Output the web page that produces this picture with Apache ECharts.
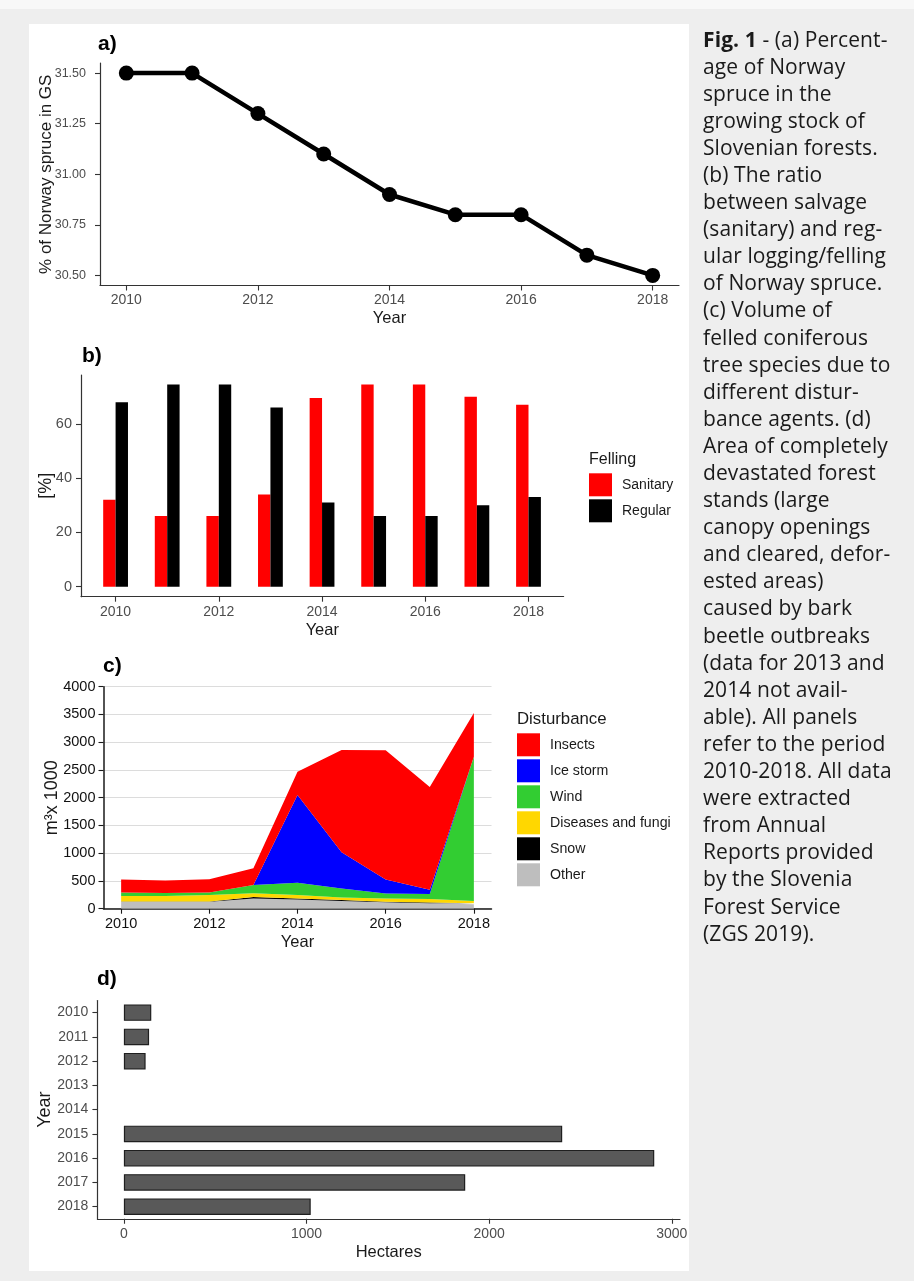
<!DOCTYPE html>
<html>
<head>
<meta charset="utf-8">
<script src="https://cdn.jsdelivr.net/npm/echarts@6/dist/echarts.min.js"></script>
<style>
  html, body { margin: 0; padding: 0; }
  body { width: 914px; height: 1281px; background: #eeeeee; position: relative; overflow: hidden; }
  #topstrip { position: absolute; left: 0; top: 0; width: 914px; height: 9px; background: #f8f8f8; }
  #panel { position: absolute; left: 29px; top: 24px; width: 660px; height: 1247px; background: #ffffff; }
  #chart { position: absolute; left: 0; top: 0; width: 914px; height: 1281px; }
  #caption { position: absolute; left: 703px; top: 25.5px; font-family: 'Open Sans', 'Noto Sans', sans-serif;
             font-size: 21px; line-height: 27.1px; color: #1a1a1a; white-space: nowrap; letter-spacing: 0.1px; }
  #caption b { font-weight: 700; }
</style>
</head>
<body>
<div id="topstrip"></div>
<div id="panel"></div>
<div id="chart"></div>
<div id="caption"><b>Fig. 1</b> - (a) Percent-<br>age of Norway<br>spruce in the<br>growing stock of<br>Slovenian forests.<br>(b) The ratio<br>between salvage<br>(sanitary) and reg-<br>ular logging/felling<br>of Norway spruce.<br>(c) Volume of<br>felled coniferous<br>tree species due to<br>different distur-<br>bance agents. (d)<br>Area of completely<br>devastated forest<br>stands (large<br>canopy openings<br>and cleared, defor-<br>ested areas)<br>caused by bark<br>beetle outbreaks<br>(data for 2013 and<br>2014 not avail-<br>able). All panels<br>refer to the period<br>2010-2018. All data<br>were extracted<br>from Annual<br>Reports provided<br>by the Slovenia<br>Forest Service<br>(ZGS 2019).</div>
<script>
// ---------- data ----------
const years = [2010, 2011, 2012, 2013, 2014, 2015, 2016, 2017, 2018];
const spruceShare = [31.5, 31.5, 31.3, 31.1, 30.9, 30.8, 30.8, 30.6, 30.5];
const sanitary = [32, 26, 26, 34, 69.5, 74.5, 74.5, 70, 67];
const regular  = [68, 74.5, 74.5, 66, 31, 26, 26, 30, 33];
const other    = [126, 126, 126, 186, 168, 138, 114, 100, 78];
const snow     = [5, 5, 5, 25, 18, 18, 12, 10, 18];
const diseases = [97, 100, 115, 66, 60, 48, 60, 66, 42];
const wind     = [66, 50, 48, 150, 222, 162, 90, 90, 2600];
const iceStorm = [0, 0, 0, 0, 1580, 650, 250, 75, 0];
const insects  = [234, 229, 236, 300, 420, 1845, 2330, 1850, 790];
const hectares = [150, 138, 119, null, null, 2400, 2904, 1869, 1023];

const yearTicks = [2010, 2012, 2014, 2016, 2018];
const shareTicks = [30.5, 30.75, 31.0, 31.25, 31.5];
const pctTicks = [0, 20, 40, 60];
const haTicks = [0, 1000, 2000, 3000];

// ---------- styling helpers ----------
const REG = "'Liberation Sans',Arial,sans-serif";
const AXC = '#333333';
const plain = v => String(v);

function axisBase(extra) {
  return Object.assign({
    axisLine: { show: true, onZero: false, lineStyle: { color: AXC, width: 1.2 } },
    splitLine: { show: false },
    nameLocation: 'middle',
    nameMoveOverlap: false,
    nameTextStyle: { fontFamily: REG, fontSize: 16.5, color: '#1a1a1a' }
  }, extra);
}
function lab(color, size, extra) {
  return Object.assign({ fontFamily: REG, fontSize: size, color: color, formatter: plain }, extra || {});
}
function tick(custom, color, extra) {
  const o = { show: true, length: 5, lineStyle: { color: color || AXC, width: 1.1 } };
  if (custom) o.customValues = custom;
  return Object.assign(o, extra || {});
}

const chart = echarts.init(document.getElementById('chart'), null, { renderer: 'canvas' });

const disturb = [
  { name: 'Other', data: other, color: '#bebebe' },
  { name: 'Snow', data: snow, color: '#000000' },
  { name: 'Diseases and fungi', data: diseases, color: '#ffd700' },
  { name: 'Wind', data: wind, color: '#32cd32' },
  { name: 'Ice storm', data: iceStorm, color: '#0000ff' },
  { name: 'Insects', data: insects, color: '#ff0000' }
];

const option = {
  animation: false,
  backgroundColor: 'transparent',
  grid: [
    { left: 100, top: 63, width: 579, height: 222.5, containLabel: false },
    { left: 81, top: 375, width: 482.6, height: 221.7, containLabel: false },
    { left: 103.5, top: 686.7, width: 388, height: 222, containLabel: false },
    { left: 97.4, top: 1000.5, width: 582.6, height: 218.25, containLabel: false }
  ],
  xAxis: [
    axisBase({ type: 'value', gridIndex: 0, min: 2009.6, max: 2018.4, name: 'Year', nameGap: 24,
      axisLabel: lab('#4d4d4d', 14, { customValues: yearTicks, margin: 8 }),
      axisTick: tick(yearTicks) }),
    axisBase({ type: 'value', gridIndex: 1, min: 2009.33, max: 2018.68, name: 'Year', nameGap: 25,
      axisLabel: lab('#4d4d4d', 14, { customValues: yearTicks, margin: 8 }),
      axisTick: tick(yearTicks) }),
    axisBase({ type: 'value', gridIndex: 2, min: 2009.6, max: 2018.4, name: 'Year', nameGap: 25,
      axisLine: { show: true, onZero: false, lineStyle: { color: '#1a1a1a', width: 1.5 } },
      axisLabel: lab('#111111', 14.5, { customValues: yearTicks, margin: 8 }),
      axisTick: tick(yearTicks, '#1a1a1a') }),
    axisBase({ type: 'value', gridIndex: 3, min: -145, max: 3045, name: 'Hectares', nameGap: 25,
      axisLabel: lab('#4d4d4d', 14, { customValues: haTicks, margin: 8 }),
      axisTick: tick(haTicks) })
  ],
  yAxis: [
    axisBase({ type: 'value', gridIndex: 0, min: 30.45, max: 31.55, name: '% of Norway spruce in GS', nameGap: 45.5,
      nameTextStyle: { fontFamily: REG, fontSize: 17, color: '#1a1a1a' },
      axisLabel: lab('#4d4d4d', 12.5, { customValues: shareTicks, margin: 14, formatter: v => Number(v).toFixed(2) }),
      axisTick: tick(shareTicks) }),
    axisBase({ type: 'value', gridIndex: 1, min: -3.7, max: 78, name: '[%]', nameGap: 25.5,
      nameTextStyle: { fontFamily: REG, fontSize: 18, color: '#1a1a1a' },
      axisLabel: lab('#4d4d4d', 14.5, { customValues: pctTicks, margin: 9 }),
      axisTick: tick(pctTicks) }),
    axisBase({ type: 'value', gridIndex: 2, min: 0, max: 4000, interval: 500, name: 'm³x 1000', nameGap: 42.5,
      nameTextStyle: { fontFamily: REG, fontSize: 18, color: '#1a1a1a' },
      axisLine: { show: true, onZero: false, lineStyle: { color: '#1a1a1a', width: 1.5 } },
      axisTick: tick(null, '#1a1a1a'),
      axisLabel: lab('#111111', 14.5, { margin: 8 }),
      splitLine: { show: true, lineStyle: { color: '#dcdcdc', width: 1.2 } } }),
    axisBase({ type: 'category', gridIndex: 3, data: years.map(String), inverse: true, name: 'Year', nameGap: 43,
      nameTextStyle: { fontFamily: REG, fontSize: 18, color: '#1a1a1a' },
      axisLabel: lab('#4d4d4d', 14, { margin: 9, interval: 0 }),
      axisTick: tick(null, AXC, { alignWithLabel: true, interval: 0 }) })
  ],
  legend: [
    { data: ['Sanitary', 'Regular'], orient: 'vertical', left: 589, top: 473.3, padding: 0,
      itemWidth: 23, itemHeight: 23, itemGap: 3, icon: 'rect', selectedMode: false,
      itemStyle: { borderWidth: 0 },
      textStyle: { fontFamily: REG, fontSize: 14, color: '#1a1a1a', padding: [0, 0, 0, 5] } },
    { data: ['Insects', 'Ice storm', 'Wind', 'Diseases and fungi', 'Snow', 'Other'], orient: 'vertical',
      left: 517, top: 733.3, padding: 0, itemWidth: 23, itemHeight: 23, itemGap: 3, icon: 'rect', selectedMode: false,
      itemStyle: { borderWidth: 0 }, lineStyle: { width: 0 },
      textStyle: { fontFamily: REG, fontSize: 14.2, color: '#1a1a1a', padding: [0, 0, 0, 5] } }
  ],
  graphic: [
    { type: 'text', x: 98, y: 44.5, style: { text: 'a)', font: 'bold 21px ' + REG, fill: '#000', verticalAlign: 'middle' } },
    { type: 'text', x: 82, y: 356, style: { text: 'b)', font: 'bold 21px ' + REG, fill: '#000', verticalAlign: 'middle' } },
    { type: 'text', x: 103, y: 666.7, style: { text: 'c)', font: 'bold 21px ' + REG, fill: '#000', verticalAlign: 'middle' } },
    { type: 'text', x: 97, y: 979, style: { text: 'd)', font: 'bold 21px ' + REG, fill: '#000', verticalAlign: 'middle' } },
    { type: 'text', x: 589, y: 460, style: { text: 'Felling', font: '16px ' + REG, fill: '#1a1a1a', verticalAlign: 'middle' } },
    { type: 'text', x: 517, y: 719, style: { text: 'Disturbance', font: '16.8px ' + REG, fill: '#1a1a1a', verticalAlign: 'middle' } }
  ],
  series: [
    { type: 'line', xAxisIndex: 0, yAxisIndex: 0, data: years.map((y, i) => [y, spruceShare[i]]),
      color: '#000', lineStyle: { width: 4.5, color: '#000' }, symbol: 'circle', symbolSize: 15,
      itemStyle: { color: '#000' } },
    { type: 'bar', name: 'Sanitary', xAxisIndex: 1, yAxisIndex: 1, data: years.map((y, i) => [y, sanitary[i]]),
      barWidth: 12.4, barGap: '0%', color: '#ff0000', itemStyle: { color: '#ff0000' } },
    { type: 'bar', name: 'Regular', xAxisIndex: 1, yAxisIndex: 1, data: years.map((y, i) => [y, regular[i]]),
      barWidth: 12.4, barGap: '0%', color: '#000000', itemStyle: { color: '#000000' } }
  ].concat(disturb.map(d => ({
      // value first, year second, so the stack is applied to the value column
      type: 'line', name: d.name, xAxisIndex: 2, yAxisIndex: 2, stack: 'dist',
      encode: { x: 1, y: 0 },
      data: years.map((y, i) => [d.data[i], y]), symbol: 'none', color: d.color,
      lineStyle: { width: 0 }, itemStyle: { color: d.color },
      areaStyle: { color: d.color, opacity: 1 }
  }))).concat([
    { type: 'bar', xAxisIndex: 3, yAxisIndex: 3, data: hectares.map(v => v == null ? '-' : v),
      barWidth: 16.5, itemStyle: { color: '#595959', borderColor: '#1f1f1f', borderWidth: 1.2 } }
  ])
};
chart.setOption(option);
</script>
</body>
</html>
